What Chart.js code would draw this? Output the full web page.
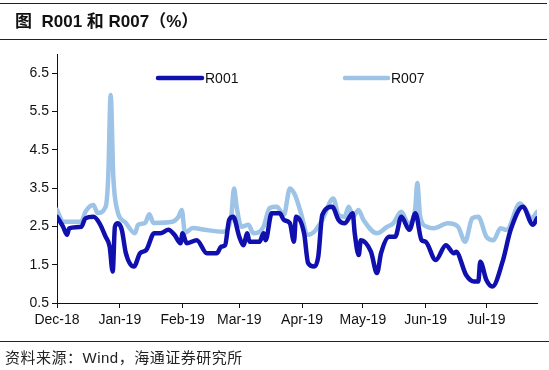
<!DOCTYPE html>
<html>
<head>
<meta charset="utf-8">
<script src="https://cdn.jsdelivr.net/npm/chart.js@4/dist/chart.umd.min.js"></script>
<style>
  html, body { margin: 0; padding: 0; background: #fff; }
  #wrap { position: relative; width: 549px; height: 370px; overflow: hidden; background: #fff; }
  #chart { position: absolute; left: 0; top: 0; }
  #title { position: absolute; left: 0; top: 3px; width: 547px; height: 35px; border-top: 1px solid #222; border-bottom: 1px solid #222;
           font: bold 17px "Liberation Sans", Arial, "Noto Sans CJK SC", sans-serif; line-height: 35px; color: #111; white-space: pre; }
  #title span.t { position: absolute; left: 15px; }
  #footer { position: absolute; left: 0; top: 341px; width: 546px; border-top: 1px solid #222;
            font: 15px "Liberation Sans", Arial, "Noto Sans CJK SC", sans-serif; color: #222; padding-top: 4px; padding-left: 5px; letter-spacing: 0.5px; }
</style>
</head>
<body>
<div id="wrap">
  <canvas id="chart" width="549" height="370"></canvas>
  <div id="title"><span class="t">图  R001 和 R007（%）</span></div>
  <div id="footer">资料来源：Wind，海通证券研究所</div>
</div>
<script>
// ---- data (x = days since 1 Dec 2018) ----
const r001Days   = [0, 3, 5, 6, 12, 14, 18, 21, 24, 26, 27.5, 28.6, 30, 32, 34, 38, 41, 44, 48, 51, 55, 58, 61, 62, 64, 69, 74, 79, 81, 83, 85, 87, 90, 92, 94, 95, 100, 102, 103, 106, 110, 112, 115, 117, 118, 122, 124, 127, 129, 131, 136, 139, 142, 146, 147, 149, 150, 155, 158, 160, 164, 167, 170, 174, 177, 180, 182, 187, 192, 196, 197, 202, 206, 208, 209, 212, 215, 220, 224, 230, 235, 237];
const r001Values = [2.75, 2.49, 2.28, 2.45, 2.49, 2.71, 2.75, 2.58, 2.23, 1.97, 1.32, 2.49, 2.58, 2.41, 1.80, 1.45, 1.80, 1.88, 2.32, 2.32, 2.41, 2.28, 2.06, 2.32, 2.06, 2.14, 1.80, 1.80, 1.97, 2.01, 2.67, 2.75, 2.23, 2.01, 2.32, 2.10, 2.10, 2.32, 2.14, 2.84, 2.84, 2.67, 2.58, 2.10, 2.75, 2.32, 1.54, 1.45, 1.71, 2.80, 3.01, 2.67, 2.58, 2.84, 2.32, 1.75, 2.14, 1.84, 1.28, 1.80, 2.23, 2.23, 2.75, 2.41, 2.84, 2.14, 2.10, 1.62, 2.01, 1.80, 1.84, 1.23, 1.06, 1.06, 1.58, 1.10, 0.93, 1.58, 2.41, 3.01, 2.54, 2.71];
const r007Days   = [0, 3, 12, 14, 18, 20, 24, 25.3, 26.5, 27.8, 29.5, 34, 38.5, 40, 43.5, 45.6, 47.6, 57, 60, 61.6, 63.2, 67, 73, 82, 86, 87.4, 88.7, 91, 94.5, 97, 102, 105, 108.5, 112, 115, 117.5, 120, 124, 127, 131, 136.4, 139, 142, 144, 146.3, 148.8, 151.3, 158, 163, 166, 170, 173.5, 176.8, 177.9, 179.3, 182.6, 186, 193, 198, 201.5, 205, 208, 212, 215.5, 219, 222, 228.6, 231, 234.4, 237];
const r007Values = [2.93, 2.62, 2.62, 2.88, 3.06, 2.85, 3.01, 3.80, 5.93, 3.80, 2.98, 2.59, 2.32, 2.54, 2.59, 2.82, 2.59, 2.62, 2.75, 2.93, 2.33, 2.46, 2.41, 2.36, 2.75, 3.49, 3.01, 2.49, 2.54, 2.32, 2.49, 2.98, 3.01, 2.80, 3.49, 3.32, 2.93, 2.28, 2.36, 2.67, 3.23, 2.80, 2.75, 3.01, 2.75, 2.93, 2.67, 2.32, 2.49, 2.58, 2.88, 2.58, 2.93, 3.63, 2.75, 2.49, 2.45, 2.58, 2.49, 2.10, 2.71, 2.75, 2.23, 2.14, 2.45, 2.41, 3.10, 2.97, 2.71, 2.88];
const seriesNames = ["R001", "R007"];
const monthTickDays = [0, 31, 62, 90, 121, 151, 182, 212];
const monthLabels = ["Dec-18", "Jan-19", "Feb-19", "Mar-19", "Apr-19", "May-19", "Jun-19", "Jul-19"];
const yTicks = [0.5, 1.5, 2.5, 3.5, 4.5, 5.5, 6.5];

const toXY = (xs, ys) => xs.map((x, i) => ({ x: x, y: ys[i] }));
const FONT = '"Liberation Sans", Arial, sans-serif';

const legendPlugin = {
  id: 'customLegend',
  afterDraw(chart) {
    const ctx = chart.ctx;
    const items = [
      { ds: chart.data.datasets[0], x0: 158, x1: 202, tx: 205, y: 78 },
      { ds: chart.data.datasets[1], x0: 345, x1: 388, tx: 391, y: 78 }
    ];
    ctx.save();
    items.forEach(it => {
      ctx.strokeStyle = it.ds.borderColor;
      ctx.lineWidth = it.ds.borderWidth;
      ctx.lineCap = 'round';
      ctx.beginPath(); ctx.moveTo(it.x0, it.y); ctx.lineTo(it.x1, it.y); ctx.stroke();
      ctx.fillStyle = '#111';
      ctx.font = '14px ' + FONT;
      ctx.textBaseline = 'middle';
      ctx.textAlign = 'left';
      ctx.fillText(it.ds.label, it.tx, it.y + 1);
    });
    ctx.restore();
  }
};

new Chart(document.getElementById('chart'), {
  type: 'line',
  data: {
    datasets: [
      { label: seriesNames[0], data: toXY(r001Days, r001Values), borderColor: '#1010AE', borderWidth: 4.5,
        pointRadius: 0, cubicInterpolationMode: 'monotone', borderCapStyle: 'round', borderJoinStyle: 'round', order: 1 },
      { label: seriesNames[1], data: toXY(r007Days, r007Values), borderColor: '#9DC3E6', borderWidth: 4.5,
        pointRadius: 0, cubicInterpolationMode: 'monotone', borderCapStyle: 'round', borderJoinStyle: 'round', order: 2 }
    ]
  },
  options: {
    responsive: false,
    animation: false,
    layout: { padding: { left: 0, right: 12, top: 54, bottom: 37 } },
    plugins: { legend: { display: false }, tooltip: { enabled: false }, title: { display: false } },
    scales: {
      x: {
        type: 'linear', min: 0, max: 237,
        afterBuildTicks: s => { s.ticks = monthTickDays.map(v => ({ value: v })); },
        afterFit: s => { s.height = 30; },
        ticks: { autoSkip: false, maxRotation: 0, padding: 4, color: '#111', font: { size: 14, family: FONT },
                 callback: (v, i) => monthLabels[i] },
        grid: { display: true, drawOnChartArea: false, drawTicks: true, tickLength: 5, color: '#111', lineWidth: 1 },
        border: { display: true, color: '#111', width: 1 }
      },
      y: {
        type: 'linear', min: 0.5, max: 7,
        afterBuildTicks: s => { s.ticks = yTicks.map(v => ({ value: v })); },
        afterFit: s => { s.width = 57; },
        ticks: { padding: 3, color: '#111', font: { size: 14, family: FONT }, callback: v => v.toFixed(1) },
        grid: { display: true, drawOnChartArea: false, drawTicks: true, tickLength: 5, color: '#111', lineWidth: 1 },
        border: { display: true, color: '#111', width: 1 }
      }
    }
  },
  plugins: [legendPlugin]
});
</script>
</body>
</html>
